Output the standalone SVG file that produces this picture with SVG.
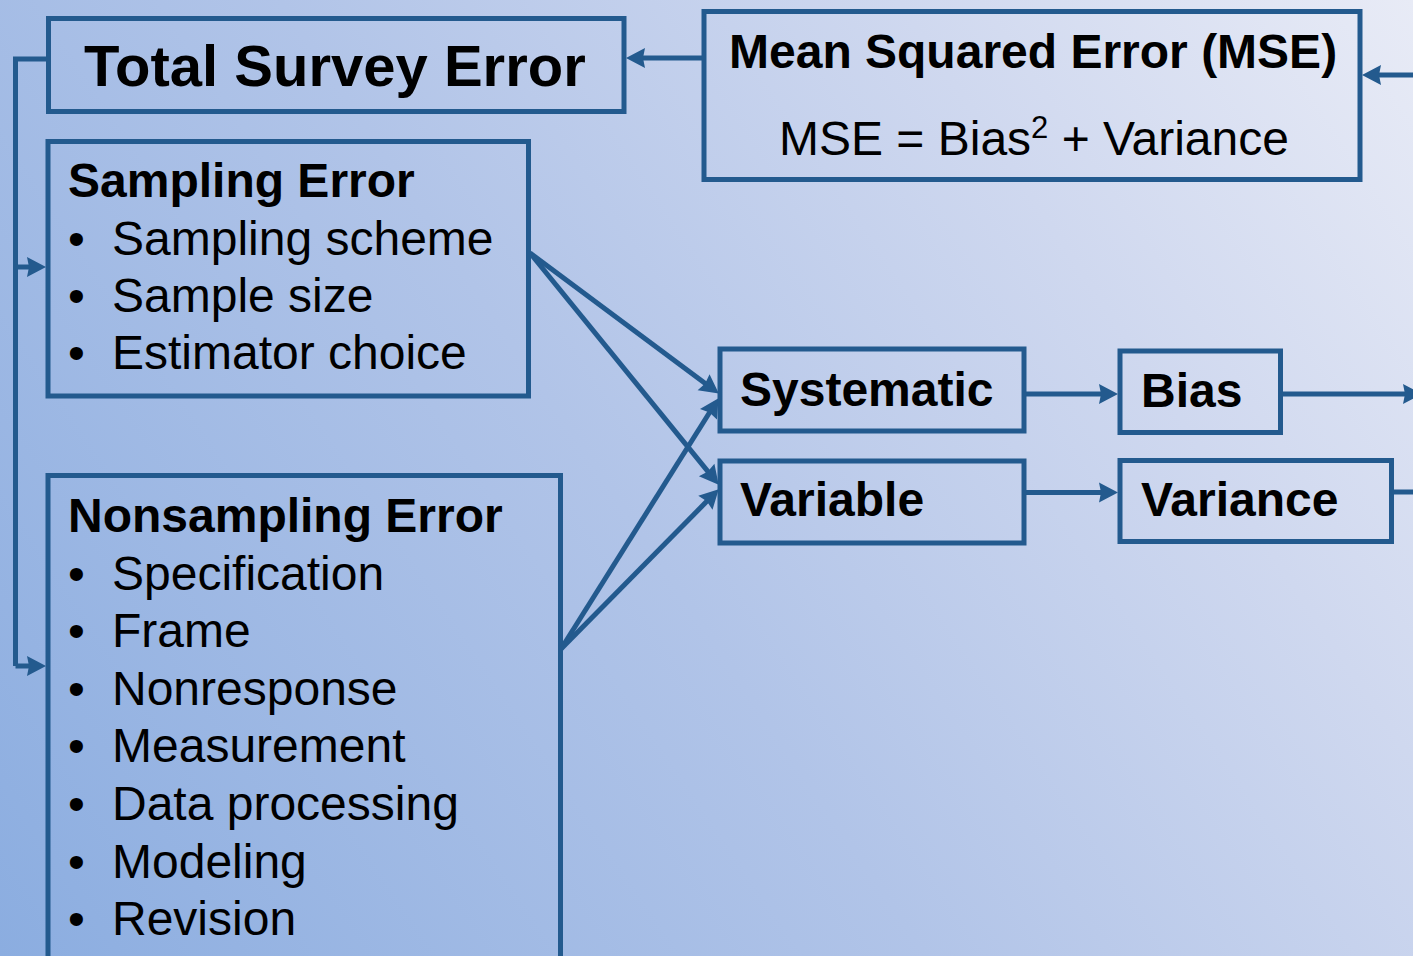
<svg xmlns="http://www.w3.org/2000/svg" width="1413" height="956" viewBox="0 0 1413 956">
  <defs>
    <linearGradient id="bg" gradientUnits="userSpaceOnUse" x1="0" y1="956" x2="1413" y2="0">
      <stop offset="0" stop-color="#8badE0"/>
      <stop offset="0.45" stop-color="#b1c4e8"/>
      <stop offset="0.75" stop-color="#cfd8ef"/>
      <stop offset="1" stop-color="#e8ebf6"/>
    </linearGradient>
    <marker id="head" refX="8" refY="11" markerWidth="22" markerHeight="22" markerUnits="userSpaceOnUse" orient="auto" overflow="visible">
      <path d="M0,1 L19,11 L0,21 L2,11 Z" fill="#235a8e"/>
    </marker>
    <style>
      .box { fill: none; stroke: #235a8e; stroke-width: 5; }
      .link { fill: none; stroke: #235a8e; stroke-width: 5; }
      .arrow { marker-end: url(#head); }
      text { font-family: "Liberation Sans", Arial, sans-serif; fill: #000; }
      .t { font-weight: bold; font-size: 48px; }
      .big { font-weight: bold; font-size: 58px; }
      .item { font-size: 48px; }
    </style>
  </defs>

  <rect x="0" y="0" width="1413" height="956" fill="url(#bg)"/>

  <!-- connectors -->
  <g id="connectors">
    <path class="link" d="M48,59 H15.5 V666"/>
    <path class="link arrow" d="M15.5,666 H35"/>
    <path class="link arrow" d="M15.5,267 H35"/>
    <path class="link arrow" d="M704,58 H637"/>
    <path class="link arrow" d="M1413,75 H1373"/>
    <path class="link arrow" d="M530,253 L710,387"/>
    <path class="link arrow" d="M530,253 L711.7,476.2"/>
    <path class="link arrow" d="M561,649 L712.7,407.5"/>
    <path class="link arrow" d="M561,649 L711,497.1"/>
    <path class="link arrow" d="M1024,394 H1107"/>
    <path class="link arrow" d="M1024,492.5 H1107"/>
    <path class="link arrow" d="M1283,394 H1411"/>
    <path class="link" d="M1394,492 H1413"/>
  </g>

  <g id="total">
    <rect class="box" x="48.5" y="18.5" width="575.5" height="93"/>
    <text class="big" x="84" y="86">Total Survey Error</text>
  </g>

  <g id="mse">
    <rect class="box" x="704" y="11.5" width="656" height="168"/>
    <text class="t" x="729" y="68">Mean Squared Error (MSE)</text>
    <text class="item" x="779" y="155">MSE = Bias<tspan font-size="31" dy="-17">2</tspan><tspan dy="17"> + Variance</tspan></text>
  </g>

  <g id="sampling">
    <rect class="box" x="48" y="141.5" width="480.5" height="254.5"/>
    <text class="t" x="68" y="197">Sampling Error</text>
    <text class="item" x="68" y="255">•</text><text class="item" x="112" y="255">Sampling scheme</text>
    <text class="item" x="68" y="312">•</text><text class="item" x="112" y="312">Sample size</text>
    <text class="item" x="68" y="369">•</text><text class="item" x="112" y="369">Estimator choice</text>
  </g>

  <g id="nonsampling">
    <rect class="box" x="48" y="475.5" width="512.5" height="500"/>
    <text class="t" x="68" y="532">Nonsampling Error</text>
    <text class="item" x="68" y="590">•</text><text class="item" x="112" y="590">Specification</text>
    <text class="item" x="68" y="647">•</text><text class="item" x="112" y="647">Frame</text>
    <text class="item" x="68" y="705">•</text><text class="item" x="112" y="705">Nonresponse</text>
    <text class="item" x="68" y="762">•</text><text class="item" x="112" y="762">Measurement</text>
    <text class="item" x="68" y="820">•</text><text class="item" x="112" y="820">Data processing</text>
    <text class="item" x="68" y="878">•</text><text class="item" x="112" y="878">Modeling</text>
    <text class="item" x="68" y="935">•</text><text class="item" x="112" y="935">Revision</text>
  </g>

  <g id="systematic">
    <rect class="box" x="720" y="349" width="304" height="82"/>
    <text class="t" x="740" y="406">Systematic</text>
  </g>

  <g id="variable">
    <rect class="box" x="720" y="461" width="304" height="82"/>
    <text class="t" x="740" y="516">Variable</text>
  </g>

  <g id="bias">
    <rect class="box" x="1120" y="351" width="160.5" height="81.5"/>
    <text class="t" x="1141" y="407">Bias</text>
  </g>

  <g id="variance">
    <rect class="box" x="1120" y="460.5" width="271.5" height="81"/>
    <text class="t" x="1141" y="516">Variance</text>
  </g>
</svg>
